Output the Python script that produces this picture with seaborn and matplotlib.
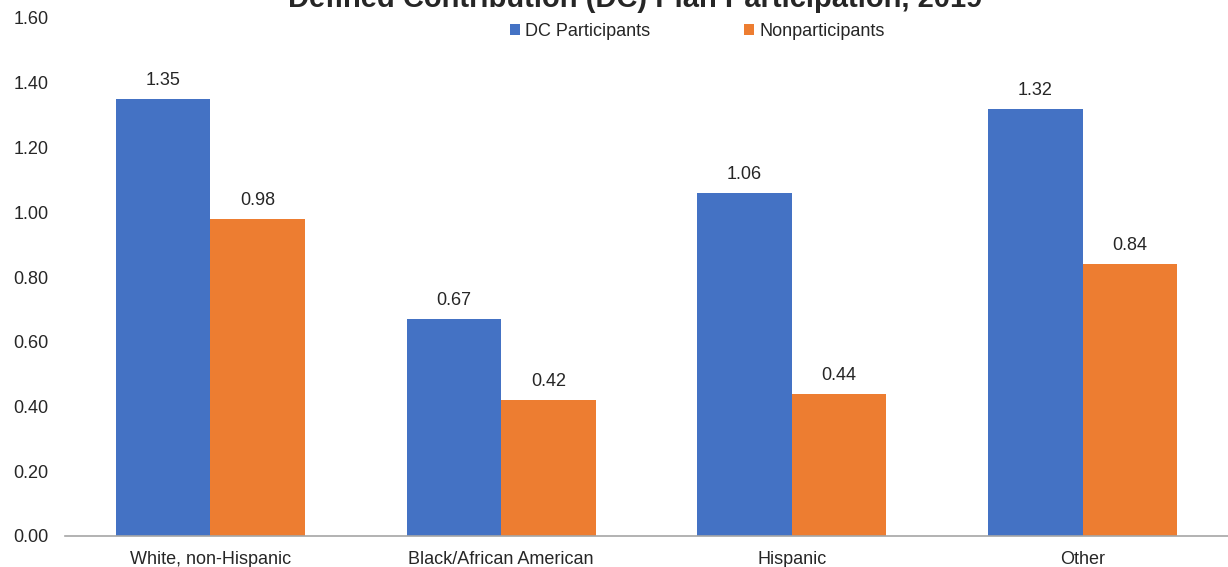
import numpy as np
import pandas as pd
import matplotlib
matplotlib.use("Agg")
import matplotlib.pyplot as plt
import seaborn as sns

# 차트 데이터
categories = ["White, non-Hispanic", "Black/African American", "Hispanic", "Other"]
dc_participants = [1.35, 0.67, 1.06, 1.32]
nonparticipants = [0.98, 0.42, 0.44, 0.84]
series_names = ["DC Participants", "Nonparticipants"]
colors = ["#4472C4", "#ED7D31"]

df = pd.DataFrame({
    "Category": categories * 2,
    "Value": dc_participants + nonparticipants,
    "Series": [series_names[0]] * 4 + [series_names[1]] * 4,
})

sns.set_style("white")
plt.rcParams["font.family"] = ["Liberation Sans", "DejaVu Sans"]

fig = plt.figure(figsize=(12.28, 5.67), dpi=100)
ax = fig.add_axes([65 / 1228, 1 - 536 / 567, 1 - 65 / 1228, 518 / 567])

sns.barplot(data=df, x="Category", y="Value", hue="Series", palette=colors,
            width=0.65, ax=ax, saturation=1, legend=True, linewidth=0)

# 막대 위 수치
for cont in ax.containers:
    ax.bar_label(cont, fmt="%.2f", padding=7, fontsize=13)

ax.set_ylim(0, 1.6)
ticks = np.arange(0, 1.61, 0.2)
ax.set_yticks(ticks)
ax.set_yticklabels([f"{v:.2f}" for v in ticks], fontsize=13)
ax.tick_params(axis="x", labelsize=13, length=0, pad=11)
ax.tick_params(axis="y", length=0, pad=12)
ax.set_xlabel("")
ax.set_ylabel("")
for s in ["top", "right", "left"]:
    ax.spines[s].set_visible(False)
ax.spines["bottom"].set_color("#A6A6A6")
ax.spines["bottom"].set_linewidth(1.2)

ax.legend(loc="center", bbox_to_anchor=(0.568, 0.944), bbox_transform=fig.transFigure,
          ncol=2, frameon=False, fontsize=13, handlelength=0.55, handleheight=0.55,
          handletextpad=0.28, columnspacing=5.2)

# 제목 (원본처럼 윗부분이 잘림)
fig.text(0.5175, 1 - 7 / 567, "Defined Contribution (DC) Plan Participation, 2019",
         ha="center", va="baseline", fontsize=21, fontweight="bold")

fig.savefig("out.png", dpi=100)
